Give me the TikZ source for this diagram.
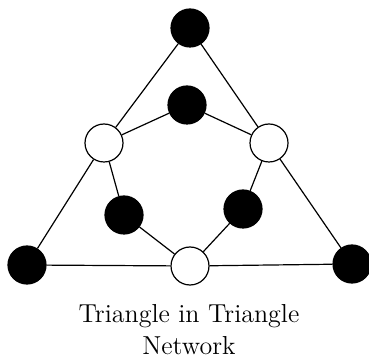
\documentclass[tikz,border=0pt]{standalone}
\usepackage{tikz}
\usetikzlibrary{positioning}

\begin{document}
\begin{tikzpicture}[x=0.5pt, y=-0.5pt, line width=0.6pt,
    blacknode/.style={circle, draw, fill=black, minimum size=19pt, inner sep=0pt},
    whitenode/.style={circle, draw, fill=white, minimum size=19pt, inner sep=0pt}]
    \useasboundingbox (0,0) rectangle (369,357);

    \node[blacknode] (top) at (190,28) {};
    \node[blacknode] (inTop) at (187,105) {};
    \node[whitenode] (left) at (104,143) {};
    \node[whitenode] (right) at (269,143) {};
    \node[blacknode] (inLeft) at (124,215) {};
    \node[blacknode] (inRight) at (243,209) {};
    \node[whitenode] (bottom) at (190,266) {};
    \node[blacknode] (botLeft) at (27,265) {};
    \node[blacknode] (botRight) at (352,264) {};

    % outer triangle
    \draw (top) -- (left) -- (botLeft) -- (bottom) -- (botRight) -- (right) -- (top);
    % inner ring
    \draw (left) -- (inTop) -- (right) -- (inRight) -- (bottom) -- (inLeft) -- (left);

    \node[align=center, inner sep=0pt, font=\fontsize{13}{16}\selectfont] (caption) at (189,330) {Triangle in Triangle\\Network};
\end{tikzpicture}
\end{document}
